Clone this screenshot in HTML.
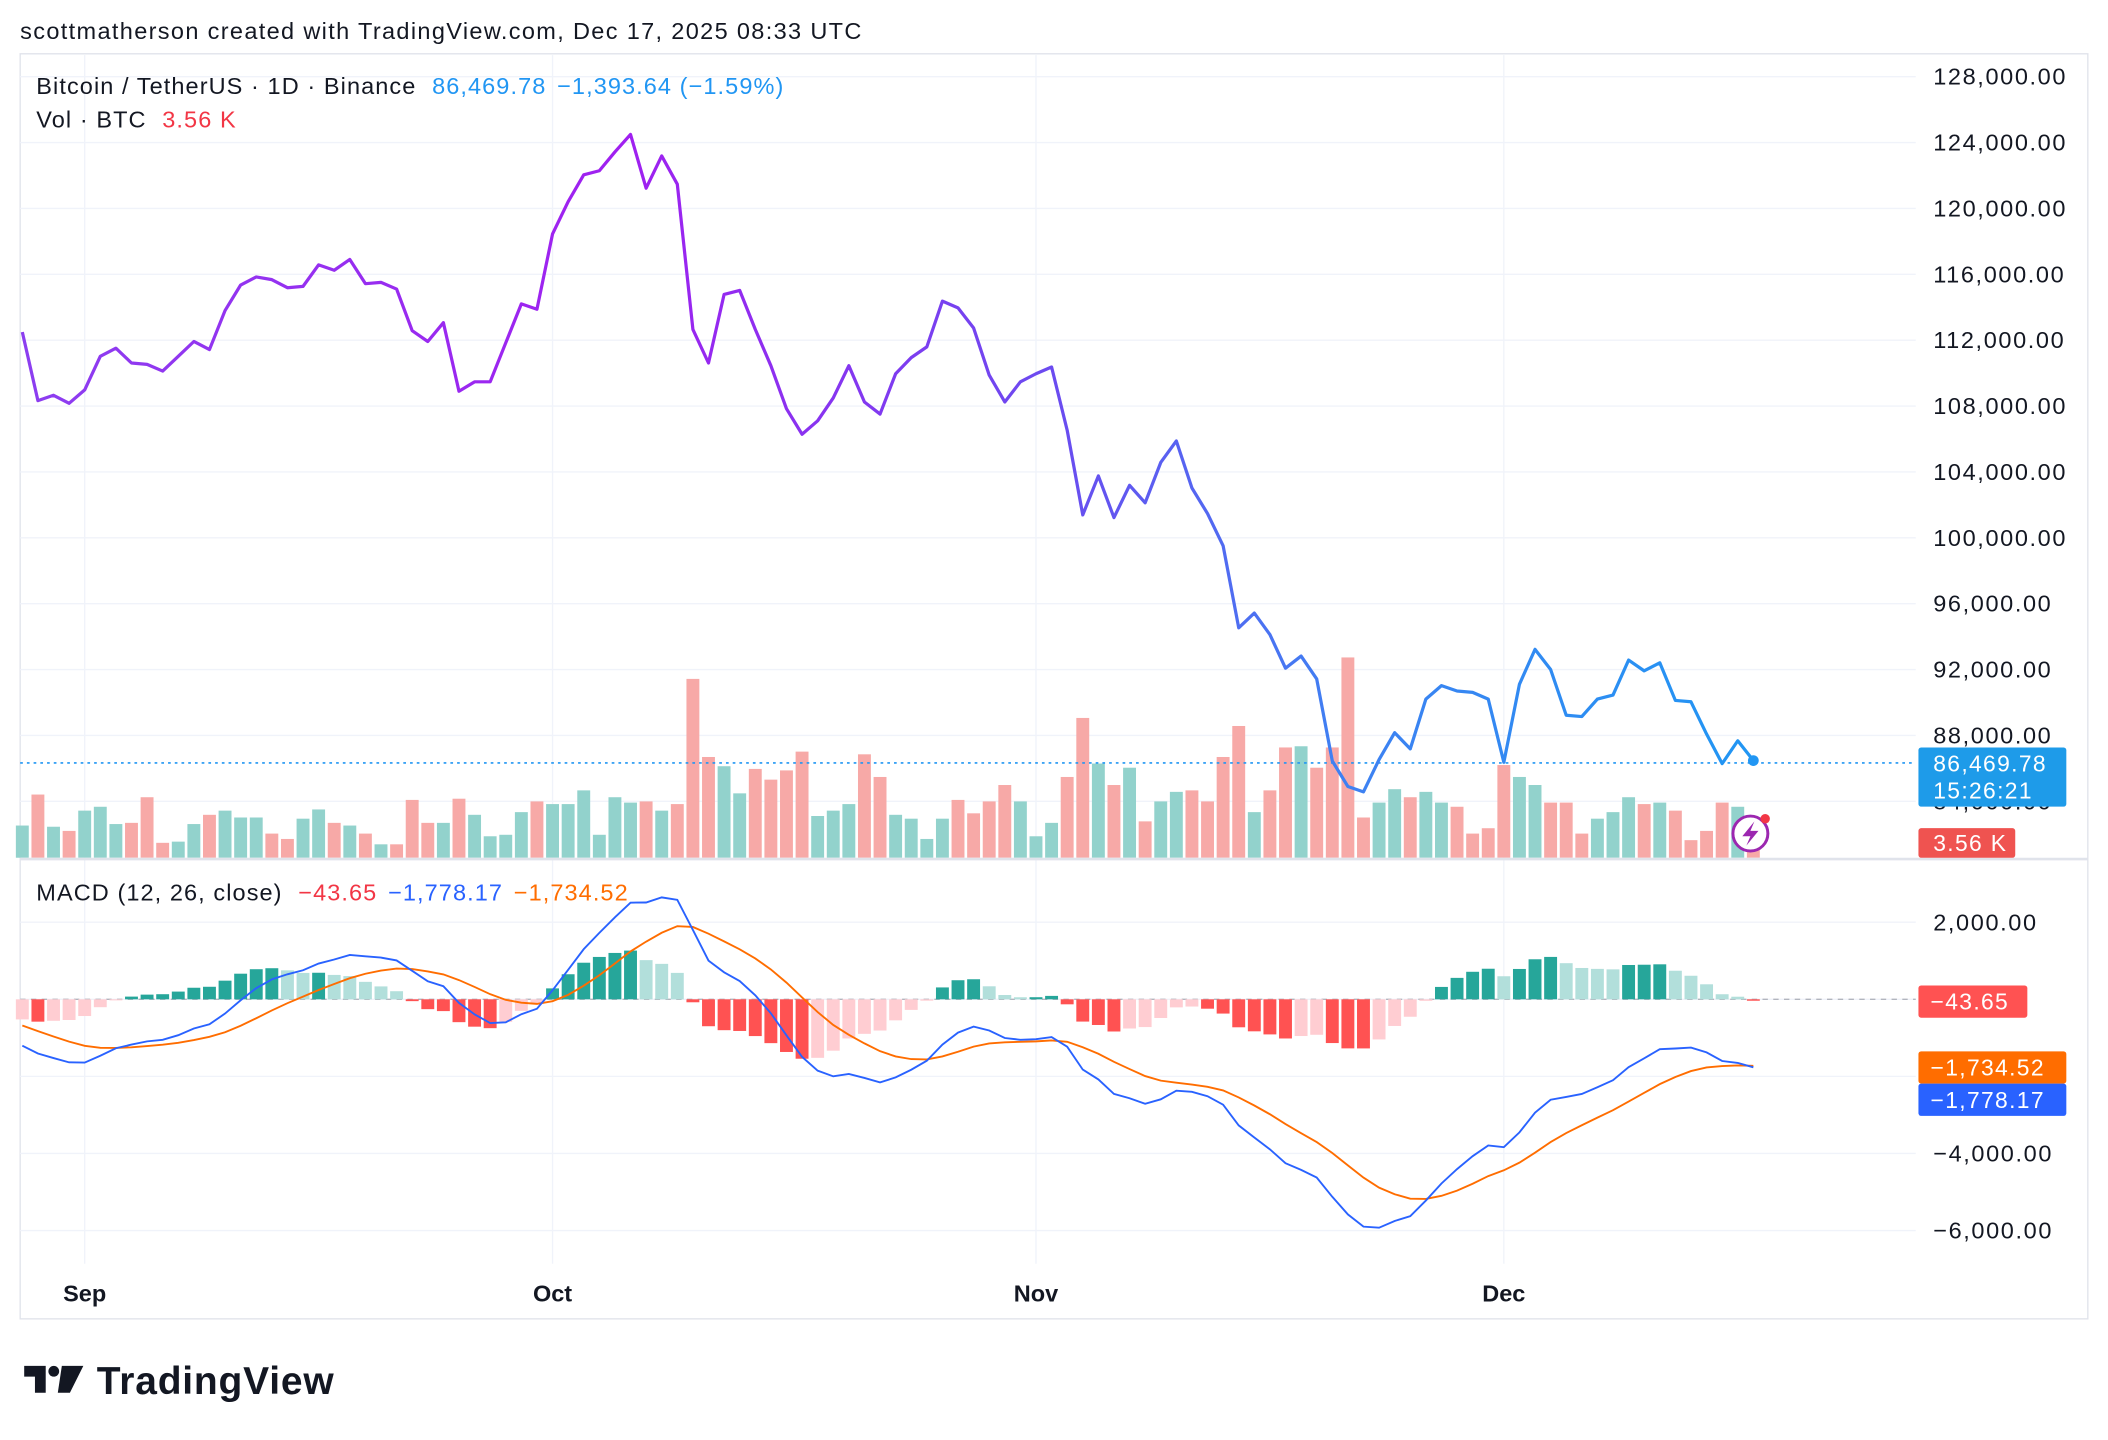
<!DOCTYPE html>
<html><head><meta charset="utf-8">
<style>
html,body{margin:0;padding:0;background:#fff;}
svg{display:block;font-family:"Liberation Sans",sans-serif;}
</style></head>
<body>
<svg id="chart" width="2108" height="1440" viewBox="0 0 1568 1071.1" xmlns="http://www.w3.org/2000/svg">
<defs>
<linearGradient id="pg" gradientUnits="userSpaceOnUse" x1="15" y1="0" x2="1304" y2="0">
<stop offset="0" stop-color="#8c3ef0"/><stop offset="0.35" stop-color="#a020f0"/><stop offset="0.6" stop-color="#6a4cf0"/><stop offset="0.76" stop-color="#3f80f2"/><stop offset="1" stop-color="#2196f3"/>
</linearGradient>
</defs>
<text x="15" y="29" font-size="17.5" letter-spacing="1" fill="#131722">scottmatherson created with TradingView.com, Dec 17, 2025 08:33 UTC</text>
<rect x="15" y="40" width="1538" height="941" fill="none" stroke="#e0e3eb" stroke-width="1"/>
<g id="grid"></g>
<g id="vol"></g>
<line x1="15" x2="1425" y1="567.5" y2="567.5" stroke="#2196f3" stroke-width="1.2" stroke-dasharray="2,3"/>
<path id="price" fill="none" stroke="url(#pg)" stroke-width="2.4" stroke-linejoin="round"/>
<circle id="lastdot" r="4" fill="#2196f3"/>
<line x1="15" x2="1553" y1="639" y2="639" stroke="#e0e3eb" stroke-width="2"/>
<line x1="15" x2="1425" y1="743.3" y2="743.3" stroke="#b2b5be" stroke-width="1" stroke-dasharray="4,4"/>
<g id="hist"></g>
<path id="sig" fill="none" stroke="#ff6d00" stroke-width="1.4"/>
<path id="macd" fill="none" stroke="#2962ff" stroke-width="1.4"/>
<g id="axes"></g>
<g font-size="17.5" letter-spacing="0.8">
<text x="27" y="70" fill="#131722">Bitcoin / TetherUS · 1D · Binance <tspan fill="#2196f3" dx="6">86,469.78</tspan><tspan fill="#2196f3" dx="8">−1,393.64 (−1.59%)</tspan></text>
<text x="27" y="95" fill="#131722">Vol · BTC <tspan fill="#f23645" dx="6">3.56 K</tspan></text>
<text x="27" y="670" fill="#131722">MACD (12, 26, close) <tspan fill="#f23645" dx="6">−43.65</tspan><tspan fill="#2962ff" dx="8">−1,778.17</tspan><tspan fill="#ff6d00" dx="8">−1,734.52</tspan></text>
</g>
<g letter-spacing="1">
<rect x="1427" y="556" width="110" height="44" rx="2" fill="#1e9be9"/>
<text x="1438" y="574" font-size="17" fill="#fff">86,469.78</text>
<text x="1438" y="594" font-size="17" fill="#fff">15:26:21</text>
</g>
<g letter-spacing="1">
<rect x="1427" y="616" width="72" height="22" rx="2" fill="#ef5350"/>
<text x="1438" y="633" font-size="17" fill="#fff">3.56 K</text>
</g>
<g letter-spacing="1">
<rect x="1427" y="733" width="81" height="24" rx="2" fill="#ff5252"/>
<text x="1436" y="751" font-size="17" fill="#fff">−43.65</text>
</g>
<g letter-spacing="1">
<rect x="1427" y="782" width="110" height="24" rx="2" fill="#ff6d00"/>
<text x="1436" y="800" font-size="17" fill="#fff">−1,734.52</text>
</g>
<g letter-spacing="1">
<rect x="1427" y="806" width="110" height="24" rx="2" fill="#2962ff"/>
<text x="1436" y="824" font-size="17" fill="#fff">−1,778.17</text>
</g>
<g>
<circle cx="1302" cy="620" r="13" fill="#fff" stroke="#9c27b0" stroke-width="2.2"/>
<path d="M1305 611 L1296 622 L1302 622 L1299 629 L1308 618 L1302 618 Z" fill="#9c27b0"/>
<circle cx="1313" cy="609" r="3.5" fill="#f23645"/>
</g>
<g>
<path d="M18 1016 h16 v20 h-8 v-12 h-8 z" fill="#131722"/>
<circle cx="40" cy="1020" r="4" fill="#131722"/>
<path d="M46 1016 h16 l-10 20 h-9 z" fill="#131722"/>
<text x="72" y="1037" font-size="29" font-weight="bold" letter-spacing="0.6" fill="#131722">TradingView</text>
</g>
</svg>
<script>
const closes=[112490,108327,108654,108164,108980,111021,111511,110613,110531,110123,111021,111919,111429,113796,115347,115837,115674,115184,115266,116572,116245,116898,115429,115511,115102,112572,111919,113062,108899,109470,109470,111837,114205,113878,118449,120408,122041,122286,123429,124490,121225,123184,121470,112654,110613,114776,115021,112654,110450,107837,106286,107103,108490,110450,108246,107511,109960,110939,111592,114368,113960,112735,109878,108246,109470,109960,110368,106531,101389,103756,101225,103184,102123,104572,105878,103021,101470,99511,94532,95430,94124,92083,92817,91430,86450,84899,84573,86532,88165,87185,90205,91022,90695,90613,90205,86369,91103,93226,92001,89226,89144,90205,90450,92573,91920,92409,90124,90042,88083,86287,87675,86470];
const volumes=[10.8,21.2,10.4,9.0,15.8,17.1,11.3,11.7,20.3,5.0,5.4,11.3,14.4,15.8,13.5,13.5,8.1,6.3,13.1,16.2,11.7,10.8,8.1,4.5,4.5,19.4,11.7,11.7,19.8,14.4,7.2,7.7,15.3,18.9,18.0,18.0,22.6,7.7,20.3,18.5,18.9,15.8,18.0,60.0,33.8,30.7,21.6,29.8,26.2,29.3,35.6,14.0,15.8,18.0,34.7,27.1,14.4,13.1,6.3,13.1,19.4,14.9,18.9,24.4,18.9,7.2,11.7,27.1,46.9,31.6,24.4,30.2,12.2,18.9,22.1,22.6,18.9,33.8,44.2,15.3,22.6,37.0,37.4,30.2,37.0,67.2,13.5,18.5,23.0,20.3,22.1,18.5,17.1,8.1,9.9,31.1,27.1,24.4,18.5,18.5,8.1,13.1,15.3,20.3,18.0,18.5,15.8,5.9,9.0,18.5,17.1,3.56];
const priceTicks=[128000,124000,120000,116000,112000,108000,104000,100000,96000,92000,88000,84000];
const macdTicks=[2000,0,-2000,-4000,-6000];
const macdTickLabels=["2,000.00","","","−4,000.00","−6,000.00"];
const monthLabels=["Sep","Oct","Nov","Dec"];
const monthDayIndex=[4,34,65,95];
const emaSeeds=[111900,113250,-550];

const NS="http://www.w3.org/2000/svg";
function X(i){return 16.6+i*11.6;}
function YP(p){return 57+(128000-p)/4000*49;}
function YV(v){return 638-v*2.217;}
function YM(m){return 743.3-m*0.028667;}
function mk(tag,attrs,parent){const e=document.createElementNS(NS,tag);for(const k in attrs)e.setAttribute(k,attrs[k]);parent.appendChild(e);return e;}
const grid=document.getElementById('grid'),axes=document.getElementById('axes');
priceTicks.forEach((t,k)=>{
  const l=mk('line',{x1:15,x2:1425,y1:YP(t),y2:YP(t),stroke:'#f0f3fa','stroke-width':1},grid);
  
  
  const tx=mk('text',{x:1438,y:YP(t)+6,'font-size':17.5,'letter-spacing':1.2,fill:'#131722'},axes);
  tx.textContent=t.toLocaleString('en-US')+'.00';
  
  
});
macdTicks.forEach((t,k)=>{
  const l=mk('line',{x1:15,x2:1425,y1:YM(t),y2:YM(t),stroke:'#f0f3fa','stroke-width':1},grid);
  
  
  if(macdTickLabels[k]){const tx=mk('text',{x:1438,y:YM(t)+6,'font-size':17.5,'letter-spacing':1.2,fill:'#131722'},axes);
  tx.textContent=macdTickLabels[k];
  
  }
});
monthLabels.forEach((m,k)=>{
  const x=X(monthDayIndex[k]);
  const l=mk('line',{x1:x,x2:x,y1:41,y2:940,stroke:'#f0f3fa','stroke-width':1},grid);
  
  
  const tx=mk('text',{x:x,y:968,'font-size':17.5,'font-weight':'bold',fill:'#131722','text-anchor':'middle'},axes);
  tx.textContent=m;
  
  
});
const vol=document.getElementById('vol');
volumes.forEach((v,i)=>{
  const up=i===0?true:closes[i]>=closes[i-1];
  const r=mk('rect',{x:X(i)-4.8,y:YV(v),width:9.6,height:638-YV(v),fill:up?'#92d2cc':'#f7a9a7'},vol);
  
  
});
document.getElementById('price').setAttribute('d',closes.map((c,i)=>(i?'L':'M')+X(i).toFixed(1)+' '+YP(c).toFixed(1)).join(' '));
const li=closes.length-1;
document.getElementById('lastdot').setAttribute('cx',X(li));
document.getElementById('lastdot').setAttribute('cy',YP(closes[li]));
let e12=emaSeeds[0],e26=emaSeeds[1],sg=emaSeeds[2];
const a12=2/13,a26=2/27,a9=2/10;
const mv=[],sv=[],hv=[];
closes.forEach((c,i)=>{e12+=a12*(c-e12);e26+=a26*(c-e26);const m=e12-e26;sg+=a9*(m-sg);mv.push(m);sv.push(sg);hv.push(m-sg);});
const hist=document.getElementById('hist');
hv.forEach((h,i)=>{
  const prev=i?hv[i-1]:h;
  let col;
  if(h>=0)col=h>=prev?'#26a69a':'#b2dfdb';else col=h<prev?'#ff5252':'#ffcdd2';
  const y0=YM(0),y1=YM(h);
  const r=mk('rect',{x:X(i)-4.8,y:Math.min(y0,y1),width:9.6,height:Math.max(0.8,Math.abs(y1-y0)),fill:col},hist);
  
  
});
document.getElementById('macd').setAttribute('d',mv.map((m,i)=>(i?'L':'M')+X(i).toFixed(1)+' '+YM(m).toFixed(1)).join(' '));
document.getElementById('sig').setAttribute('d',sv.map((m,i)=>(i?'L':'M')+X(i).toFixed(1)+' '+YM(m).toFixed(1)).join(' '));
</script>
</body></html>
